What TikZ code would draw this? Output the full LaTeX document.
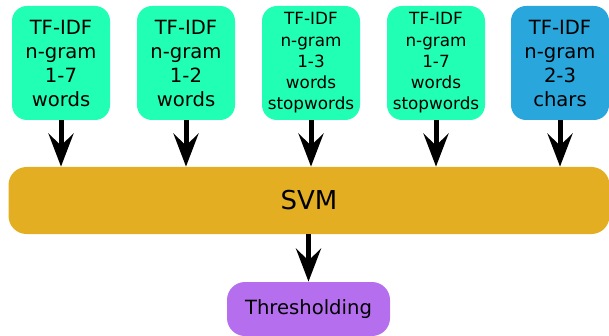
\documentclass[tikz,border=0pt]{standalone}
\usepackage{fontspec}
\setmainfont{DejaVu Sans}
\usetikzlibrary{arrows.meta}
\definecolor{featgreen}{HTML}{20FFB4}
\definecolor{featblue}{HTML}{29A6DB}
\definecolor{svmgold}{HTML}{E3AE21}
\definecolor{threshpurple}{HTML}{B46EEE}
\begin{document}
\begin{tikzpicture}[
    x=0.5pt, y=-0.5pt,
    feature/.style={shape=rectangle, rounded corners=7.5pt, fill=featgreen, minimum width=49pt, minimum height=57pt, align=center, inner sep=0pt, font=\fontsize{9.8}{12}\selectfont},
    smallfeature/.style={feature, font=\fontsize{8.4}{10.6}\selectfont},
    charfeature/.style={feature, fill=featblue},
    classifier/.style={shape=rectangle, rounded corners=9pt, fill=svmgold, minimum width=300.5pt, minimum height=33.5pt, font=\fontsize{13}{15}\selectfont},
    post/.style={shape=rectangle, rounded corners=9pt, fill=threshpurple, minimum width=81.5pt, minimum height=27pt, font=\fontsize{9.8}{12}\selectfont},
    flow/.style={line width=2.5pt, -{Stealth[length=16.5pt, width=12.5pt, inset=6pt]}},
  ]
    \useasboundingbox (0,0) rectangle (609,336);

    \node[feature] (f1) at (61,63) {TF-IDF\\n-gram\\1-7\\words};
    \node[feature] (f2) at (186,63) {TF-IDF\\n-gram\\1-2\\words};
    \node[smallfeature] (f3) at (311,63) {TF-IDF\\n-gram\\1-3\\words\\stopwords};
    \node[smallfeature] (f4) at (436,63) {TF-IDF\\n-gram\\1-7\\words\\stopwords};
    \node[charfeature] (f5) at (560,63) {TF-IDF\\n-gram\\2-3\\chars};

    \node[classifier] (svm) at (309,200.5) {SVM};

    \node[post] (thr) at (308.5,309) {Thresholding};

    \foreach \f in {f1,f2,f3,f4,f5}
      \draw[flow] (\f.south) -- (\f.south |- svm.north);

    \draw[flow] (svm.south -| thr.north) -- (thr.north);

  \end{tikzpicture}
\end{document}
